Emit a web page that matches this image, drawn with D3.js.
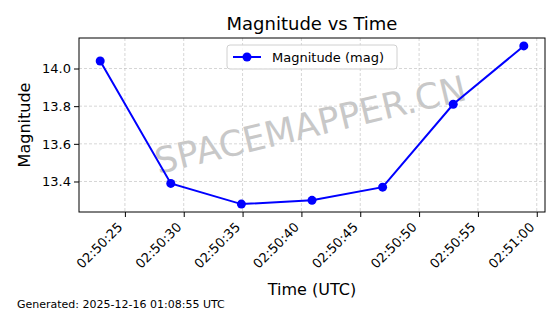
<!DOCTYPE html>
<html>
<head>
<meta charset="utf-8">
<script src="https://cdn.jsdelivr.net/npm/d3@7"></script>
<style>
  body { margin: 0; background: #fff; }
  svg, svg text { font-family: "DejaVu Sans", sans-serif; }
</style>
</head>
<body>
<svg id="chart" width="560" height="314"></svg>
<script>
var times = ["2025-12-16T02:50:22.9Z", "2025-12-16T02:50:28.9Z", "2025-12-16T02:50:34.9Z",
  "2025-12-16T02:50:40.9Z", "2025-12-16T02:50:46.9Z", "2025-12-16T02:50:52.9Z", "2025-12-16T02:50:58.9Z"];
var mags = [14.04, 13.39, 13.28, 13.30, 13.37, 13.81, 14.12];
var yTicks = [13.4, 13.6, 13.8, 14.0];

var data = times.map((t, i) => ({t: new Date(t), m: mags[i]}));

var svg = d3.select("#chart");
var pLeft = 79, pRight = 545, pTop = 38, pBottom = 212;

// matplotlib style 5% margins
var tExt = d3.extent(data, d => d.t);
var tPad = (tExt[1] - tExt[0]) * 0.05;
var x = d3.scaleUtc()
  .domain([new Date(+tExt[0] - tPad), new Date(+tExt[1] + tPad)])
  .range([pLeft, pRight]);
var mExt = d3.extent(mags);
var mPad = (mExt[1] - mExt[0]) * 0.05;
var y = d3.scaleLinear()
  .domain([mExt[0] - mPad, mExt[1] + mPad])
  .range([pBottom, pTop]);

var xTicks = x.ticks(d3.utcSecond.every(5));
var fmt = d3.utcFormat("%H:%M:%S");

// grid
var grid = svg.append("g");
grid.selectAll(".vx").data(xTicks).enter().append("line")
  .attr("x1", d => x(d)).attr("x2", d => x(d))
  .attr("y1", pTop).attr("y2", pBottom)
  .attr("stroke", "#b0b0b0").attr("stroke-opacity", 0.65)
  .attr("stroke-width", 0.8).attr("stroke-dasharray", "3,2");
grid.selectAll(".hy").data(yTicks).enter().append("line")
  .attr("x1", pLeft).attr("x2", pRight)
  .attr("y1", d => y(d)).attr("y2", d => y(d))
  .attr("stroke", "#b0b0b0").attr("stroke-opacity", 0.65)
  .attr("stroke-width", 0.8).attr("stroke-dasharray", "3,2");

// watermark
svg.append("text")
  .attr("transform", "translate(311,127) rotate(-13.5)")
  .attr("text-anchor", "middle")
  .attr("dominant-baseline", "middle")
  .attr("font-size", 35.5)
  .attr("fill", "#c8c8c8")
  .text("SPACEMAPPER.CN");

// line + markers
svg.append("path")
  .datum(data)
  .attr("fill", "none")
  .attr("stroke", "#0000ff")
  .attr("stroke-width", 2)
  .attr("d", d3.line().x(d => x(d.t)).y(d => y(d.m)));
svg.selectAll(".pt").data(data).enter().append("circle")
  .attr("cx", d => x(d.t)).attr("cy", d => y(d.m))
  .attr("r", 4.5).attr("fill", "#0000ff");

// axes
var xAxis = svg.append("g")
  .attr("transform", "translate(0," + pBottom + ")")
  .call(d3.axisBottom(x).tickValues(xTicks).tickFormat(fmt).tickSize(5).tickSizeOuter(0))
  .attr("font-family", "DejaVu Sans");
xAxis.select(".domain").remove();
xAxis.selectAll("text")
  .attr("font-size", 13).attr("fill", "#000")
  .attr("text-anchor", "end")
  .attr("dy", null)
  .attr("y", 0)
  .attr("transform", "translate(-2,16) rotate(-45)");

var yAxis = svg.append("g")
  .attr("transform", "translate(" + pLeft + ",0)")
  .call(d3.axisLeft(y).tickValues(yTicks).tickFormat(d3.format(".1f")).tickSize(5).tickSizeOuter(0))
  .attr("font-family", "DejaVu Sans");
yAxis.select(".domain").remove();
yAxis.selectAll("text").attr("font-size", 13).attr("fill", "#000").attr("x", -8);

svg.append("rect")
  .attr("x", pLeft).attr("y", pTop)
  .attr("width", pRight - pLeft).attr("height", pBottom - pTop)
  .attr("fill", "none").attr("stroke", "#000").attr("stroke-width", 1);

// legend
var lg = svg.append("g").attr("transform", "translate(227,45)");
lg.append("rect").attr("width", 170).attr("height", 24).attr("rx", 3)
  .attr("fill", "#fff").attr("fill-opacity", 0.8).attr("stroke", "#d0d0d0");
lg.append("line").attr("x1", 6).attr("x2", 34).attr("y1", 12).attr("y2", 12)
  .attr("stroke", "#0000ff").attr("stroke-width", 2);
lg.append("circle").attr("cx", 20).attr("cy", 12).attr("r", 4.5).attr("fill", "#0000ff");
lg.append("text").attr("x", 45).attr("y", 17).attr("font-size", 13).text("Magnitude (mag)");

// titles
svg.append("text").attr("x", (pLeft + pRight) / 2).attr("y", 30)
  .attr("text-anchor", "middle").attr("font-size", 18).text("Magnitude vs Time");
svg.append("text").attr("x", (pLeft + pRight) / 2).attr("y", 295)
  .attr("text-anchor", "middle").attr("font-size", 16).text("Time (UTC)");
svg.append("text").attr("transform", "translate(30,125) rotate(-90)")
  .attr("text-anchor", "middle").attr("font-size", 16).text("Magnitude");
svg.append("text").attr("x", 17).attr("y", 308)
  .attr("font-size", 11).text("Generated: 2025-12-16 01:08:55 UTC");
</script>
</body>
</html>
